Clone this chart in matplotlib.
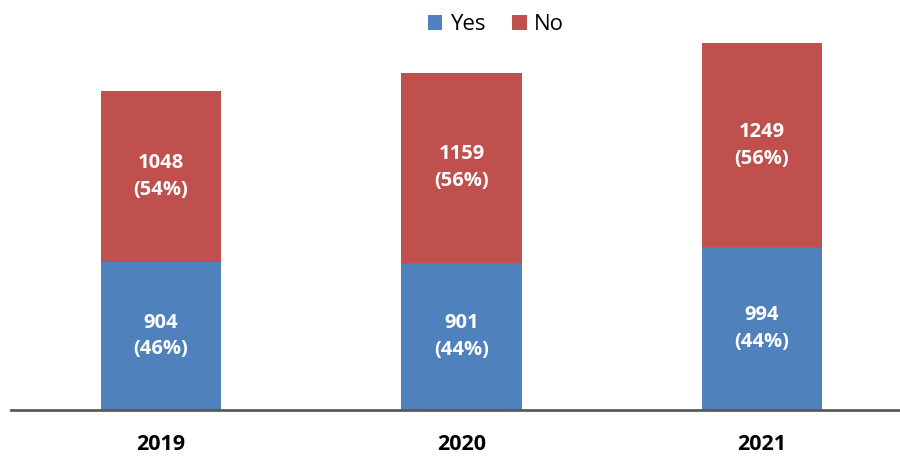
import matplotlib
matplotlib.use("Agg")
import matplotlib.pyplot as plt
import numpy as np

years = ["2019", "2020", "2021"]
yes_vals = [904, 901, 994]
no_vals = [1048, 1159, 1249]
yes_pct = ["46%", "44%", "44%"]
no_pct = ["54%", "56%", "56%"]

plt.rcParams['font.family'] = ['Open Sans', 'DejaVu Sans']

W, H = 900, 458
fig = plt.figure(figsize=(W/100, H/100), dpi=100)
ax = fig.add_axes([11/W, (H-410)/H, (900-11)/W, 410/H])

x = np.arange(len(years))
blue = "#4F81BD"
red = "#C0504D"
bw = 0.4
b1 = ax.bar(x, yes_vals, bw, color=blue, label="Yes", zorder=2)
b2 = ax.bar(x, no_vals, bw, bottom=yes_vals, color=red, label="No", zorder=2)

for i in range(len(years)):
    ax.text(x[i], yes_vals[i]/2, f"{yes_vals[i]}\n({yes_pct[i]})", ha='center', va='center',
            color='white', fontsize=14.5, fontweight='bold', linespacing=1.45)
    ax.text(x[i], yes_vals[i] + no_vals[i]/2, f"{no_vals[i]}\n({no_pct[i]})", ha='center', va='center',
            color='white', fontsize=14.5, fontweight='bold', linespacing=1.45)

ax.set_xlim(-150/300.5, 2.459)
ax.set_ylim(0, 2506)
ax.set_xticks(x)
ax.set_xticklabels(years, fontsize=15.5, fontweight='bold')
ax.tick_params(axis='x', length=0, pad=17)
ax.set_yticks([])
for s in ['top', 'right', 'left']:
    ax.spines[s].set_visible(False)
ax.spines['bottom'].set_color('#595959')
ax.spines['bottom'].set_linewidth(2)

fig.legend(handles=[b1, b2], labels=["Yes", "No"], loc='center', bbox_to_anchor=(496/W, 1-25/H),
           ncol=2, frameon=False, fontsize=16, handlelength=0.65, handleheight=0.65,
           handletextpad=0.35, columnspacing=1.2)

fig.savefig("out.png", dpi=100)
